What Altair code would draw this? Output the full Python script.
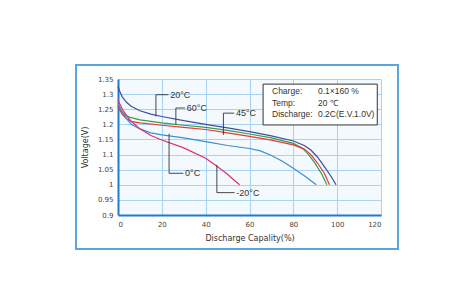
import altair as alt
import pandas as pd

# ---- data ----
x_20 = [0, 1, 2, 4, 6, 10, 15, 20, 30, 40, 50, 60, 70, 80, 85, 88, 91, 94, 97, 99.5]
v_20 = [1.325, 1.305, 1.29, 1.272, 1.26, 1.245, 1.234, 1.226, 1.212, 1.2, 1.188, 1.176,
        1.162, 1.145, 1.13, 1.115, 1.092, 1.062, 1.03, 1.0]
x_60 = [0, 1, 2, 4, 6, 10, 20, 30, 40, 50, 60, 70, 80, 84, 87, 90, 93, 95.3]
v_60 = [1.265, 1.25, 1.24, 1.228, 1.222, 1.215, 1.205, 1.197, 1.19, 1.18, 1.168, 1.155,
        1.137, 1.122, 1.1, 1.07, 1.035, 1.0]
x_45 = [0, 1, 2, 4, 6, 10, 20, 30, 40, 50, 60, 70, 80, 85, 88, 91, 94, 96.5]
v_45 = [1.26, 1.245, 1.232, 1.218, 1.21, 1.205, 1.197, 1.19, 1.183, 1.172, 1.16, 1.148,
        1.132, 1.118, 1.1, 1.072, 1.04, 1.0]
x_0 = [0, 1, 2, 4, 6, 10, 15, 20, 30, 40, 50, 60, 65, 70, 75, 80, 85, 90.5]
v_0 = [1.27, 1.255, 1.24, 1.218, 1.2, 1.185, 1.172, 1.165, 1.155, 1.143, 1.13, 1.12,
       1.112, 1.097, 1.078, 1.055, 1.03, 1.0]
x_m20 = [0, 1, 2, 4, 6, 10, 15, 20, 30, 40, 45, 50, 53, 55.5]
v_m20 = [1.28, 1.265, 1.25, 1.228, 1.21, 1.185, 1.163, 1.148, 1.122, 1.088, 1.062,
         1.035, 1.015, 1.0]

series_names = ["20°C", "60°C", "45°C", "0°C", "-20°C"]
series_colors = ["#3b4fa0", "#3a9a4a", "#e23a3a", "#3a8ed6", "#e0306e"]
series_x = [x_20, x_60, x_45, x_0, x_m20]
series_v = [v_20, v_60, v_45, v_0, v_m20]

# callouts: vertical x, v bottom, v top(elbow), horizontal end x
call_labels = ["20°C", "60°C", "45°C", "0°C", "-20°C"]
call_x = [17.3, 26.4, 48.1, 23.3, 45.1]
call_v_start = [1.226, 1.198, 1.165, 1.169, 1.066]
call_v_elbow = [1.298, 1.254, 1.237, 1.038, 0.974]
call_x_end = [23.0, 30.6, 53.0, 29.8, 53.2]

x_ticks = [0, 20, 40, 60, 80, 100, 120]
y_ticks = [0.9, 0.95, 1.0, 1.05, 1.1, 1.15, 1.2, 1.25, 1.3, 1.35]

info_keys = ["Charge:", "Temp:", "Discharge:"]
info_vals = ["0.1×160 %", "20 ℃", "0.2C(E.V.1.0V)"]

# ---- tables ----
rows = []
for name, xs_, vs_ in zip(series_names, series_x, series_v):
    for i, (a, b) in enumerate(zip(xs_, vs_)):
        rows.append({"series": name, "x": a, "v": b, "i": i})
curves = pd.DataFrame(rows)

seg_rows = []
for lab, cx, v0, v1, xe in zip(call_labels, call_x, call_v_start, call_v_elbow, call_x_end):
    seg_rows.append({"x": cx, "v": v0, "x2": cx, "v2": v1})
    seg_rows.append({"x": cx, "v": v1, "x2": xe, "v2": v1})
segs = pd.DataFrame(seg_rows)
labels = pd.DataFrame({"label": call_labels, "x": [e + 0.8 for e in call_x_end], "v": call_v_elbow})

xs = alt.Scale(domain=[0, 120], nice=False, zero=False)
ys = alt.Scale(domain=[0.9, 1.35], nice=False, zero=False)
x_axis = alt.Axis(values=x_ticks, title="Discharge Capality(%)", grid=True, labelOverlap=False)
y_axis = alt.Axis(values=y_ticks, format="~g", title="Voltage(V)", grid=True, labelOverlap=False)


def X(f):
    return alt.X(f, scale=xs, axis=x_axis)


def Y(f):
    return alt.Y(f, scale=ys, axis=y_axis)


frame = alt.Chart(pd.DataFrame({"a": [0]})).mark_rect(
    fill="white", fillOpacity=0, stroke="#5aa5dc", strokeWidth=2
).encode(x=alt.value(-42), x2=alt.value(280), y=alt.value(-14), y2=alt.value(170))

lines = alt.Chart(curves).mark_line(strokeWidth=1.2).encode(
    x=X("x:Q"),
    y=Y("v:Q"),
    color=alt.Color("series:N", scale=alt.Scale(domain=series_names, range=series_colors), legend=None),
    order="i:Q",
)

callouts = alt.Chart(segs).mark_rule(color="#333333", strokeWidth=0.9).encode(
    x=X("x:Q"), y=Y("v:Q"), x2="x2:Q", y2="v2:Q"
)
callout_text = alt.Chart(labels).mark_text(
    align="left", baseline="middle", fontSize=9, font="Liberation Sans", color="#333333"
).encode(x=X("x:Q"), y=Y("v:Q"), text="label:N")

box = alt.Chart(pd.DataFrame({"x": [66.2], "x2": [118.3], "v": [1.333], "v2": [1.198]})).mark_rect(
    fill="white", stroke="#333333", strokeWidth=1
).encode(x=X("x:Q"), x2="x2:Q", y=Y("v:Q"), y2="v2:Q")

info = pd.DataFrame({"key": info_keys, "val": info_vals, "v": [1.31, 1.272, 1.234]})
info_k = alt.Chart(info).mark_text(align="left", baseline="middle", fontSize=8.5,
                                   font="Liberation Sans", color="#333333").encode(
    x=alt.value(154), y=Y("v:Q"), text="key:N")
info_v = alt.Chart(info).mark_text(align="left", baseline="middle", fontSize=8.5,
                                   font="Liberation Sans", color="#333333").encode(
    x=alt.value(200), y=Y("v:Q"), text="val:N")

chart = alt.layer(frame, lines, callouts, callout_text, box, info_k, info_v).properties(
    width=263, height=136,
    autosize=alt.AutoSizeParams(type="none"),
    padding={"left": 118, "top": 79, "right": 69, "bottom": 85},
    background="white",
).configure_view(
    fill="#f4f9fd", stroke=None
).configure_axis(
    gridColor="#a9d3ee", gridWidth=1, domainColor="#1f7bd0", domainWidth=2,
    ticks=False, labelFontSize=7, labelColor="#444444", labelFont="DejaVu Sans",
    titleFontSize=8, titleFont="DejaVu Sans", titleColor="#333333", titleFontWeight="normal",
    labelPadding=5, labelOverlap=False,
).configure_axisY(titlePadding=8).configure_axisX(titlePadding=7)

chart.save("out.html", embed_options={"renderer": "svg", "actions": False})
